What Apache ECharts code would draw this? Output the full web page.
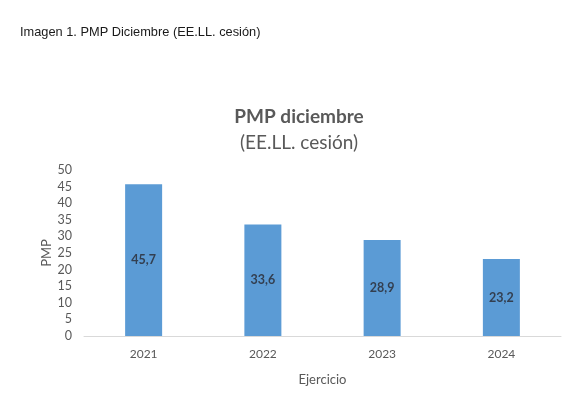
<!DOCTYPE html>
<html><head><meta charset="utf-8">
<script src="https://cdn.jsdelivr.net/npm/echarts@6/dist/echarts.min.js"></script>
<style>html,body{margin:0;padding:0;background:#fff;}#c{width:571px;height:396px;}</style>
</head><body><div id="c"></div>
<script>
const categories = ['2021', '2022', '2023', '2024'];
const values = [45.7, 33.6, 28.9, 23.2];
const yTicks = [0, 5, 10, 15, 20, 25, 30, 35, 40, 45, 50];

const chart = echarts.init(document.getElementById('c'), null, {renderer: 'canvas'});
const F = 'Lato, "Open Sans", sans-serif';
chart.setOption({
  animation: false,
  backgroundColor: '#ffffff',
  title: [
    {text: 'Imagen 1. PMP Diciembre (EE.LL. cesión)', left: 20, top: 26, padding: 0,
     textStyle: {fontFamily: '"Liberation Sans", Arial, sans-serif', fontSize: 12.8, fontWeight: 'normal', color: '#1a1a1a'}},
    {text: 'PMP diciembre', left: 299, textAlign: 'center', top: 107, padding: 0,
     textStyle: {fontFamily: F, fontSize: 19, fontWeight: 'bold', color: '#595959'}},
    {text: '(EE.LL. cesión)', left: 299, textAlign: 'center', top: 133, padding: 0,
     textStyle: {fontFamily: F, fontSize: 19, fontWeight: 'normal', color: '#595959'}}
  ],
  grid: {left: 84, right: 10, top: 170, bottom: 60, containLabel: false},
  xAxis: {
    type: 'category', data: categories,
    name: 'Ejercicio', nameLocation: 'middle', nameGap: 37,
    nameTextStyle: {fontFamily: F, fontSize: 13, color: '#595959'},
    axisLine: {lineStyle: {color: '#d9d9d9', width: 1}},
    axisTick: {show: false},
    axisLabel: {fontFamily: F, fontSize: 12, color: '#595959', margin: 12}
  },
  yAxis: {
    type: 'value', min: 0, max: 50, interval: 5,
    name: 'PMP', nameLocation: 'middle', nameGap: 31, nameRotate: 90, nameMoveOverlap: false,
    nameTextStyle: {fontFamily: F, fontSize: 13, color: '#595959'},
    axisLine: {show: false}, axisTick: {show: false},
    splitLine: {show: false},
    axisLabel: {fontFamily: F, fontSize: 12.5, color: '#595959', margin: 12,
      formatter: v => yTicks.includes(v) ? String(v) : ''}
  },
  series: [{
    type: 'bar', data: values, barWidth: 37,
    itemStyle: {color: '#5b9bd5'},
    label: {show: true, position: 'inside', fontFamily: F, fontSize: 12.5, fontWeight: 'bold', color: '#333f50',
      formatter: p => String(p.value).replace('.', ',')}
  }]
});
</script></body></html>
